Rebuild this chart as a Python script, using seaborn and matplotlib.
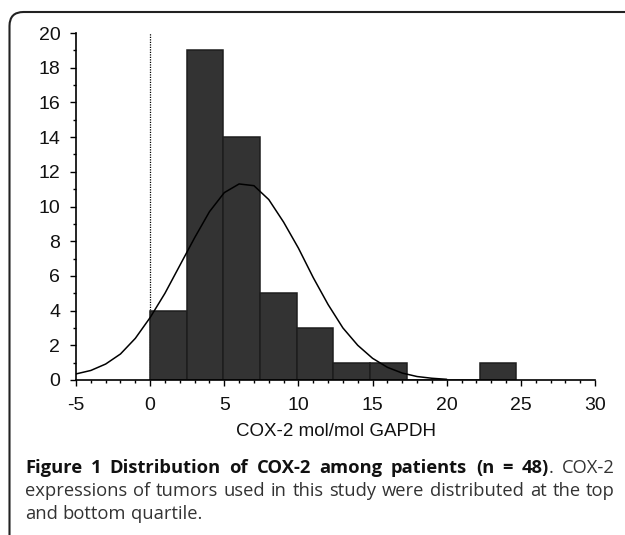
"""
plot.py
COX-2 expression histogram with fitted normal curve, plus figure caption.
Writes out.png (625x535).
"""

import matplotlib
matplotlib.use("Agg")
import matplotlib.pyplot as plt
from matplotlib.patches import FancyBboxPatch
from matplotlib.transforms import IdentityTransform
from matplotlib.ticker import MultipleLocator
import seaborn as sns


# ---------------------------------------------------------------------------
# DATA
# ---------------------------------------------------------------------------
bin_width = 2.47
bin_starts = [0, 2.47, 4.94, 7.41, 9.88, 12.35, 14.82, 17.29, 19.76, 22.23]
bin_counts = [4, 19, 14, 5, 3, 1, 1, 0, 0, 1]

# fitted normal curve
curve_x = [-5, -4, -3, -2, -1, 0, 1, 2, 3, 4, 5, 6, 7, 8, 9, 10,
           11, 12, 13, 14, 15, 16, 17, 18, 19, 20]
curve_y = [0.35, 0.55, 0.92, 1.5, 2.4, 3.6, 5.0, 6.6, 8.2, 9.7, 10.8, 11.3,
           11.2, 10.4, 9.1, 7.6, 5.9, 4.35, 3.0, 2.0, 1.25, 0.73, 0.4, 0.2,
           0.1, 0.04]

x_label = "COX-2 mol/mol GAPDH"
caption_bold = "Figure 1 Distribution of COX-2 among patients (n = 48)"
caption_line1_rest = ". COX-2"
caption_line2 = "expressions of tumors used in this study were distributed at the top"
caption_line3 = "and bottom quartile."


# ---------------------------------------------------------------------------
# FIGURE
# ---------------------------------------------------------------------------
W, H = 625, 535
sns.set_style("ticks")
plt.rcParams["font.family"] = ["Liberation Sans", "DejaVu Sans"]
plt.rcParams["axes.unicode_minus"] = False   # plain hyphen like the original

fig = plt.figure(figsize=(W / 100, H / 100), dpi=100)
ax = fig.add_axes([76 / W, 1 - 380 / H, 519 / W, 347 / H])

edges = bin_starts + [bin_starts[-1] + bin_width]
centers = [s + bin_width / 2 for s in bin_starts]
sns.histplot(x=centers, weights=bin_counts, bins=edges, ax=ax,
             color="#333333", edgecolor="#1e1e1e", linewidth=1.1, alpha=1)

sns.lineplot(x=curve_x, y=curve_y, ax=ax, color="black", linewidth=1.1)

# dotted reference line at zero
ax.axvline(0, color="black", linestyle=(0, (1, 1)), linewidth=0.9, zorder=0)

ax.set_xlim(-5, 30)
ax.set_ylim(0, 20)
ax.xaxis.set_major_locator(MultipleLocator(5))
ax.xaxis.set_minor_locator(MultipleLocator(1))
ax.yaxis.set_major_locator(MultipleLocator(2))
ax.yaxis.set_minor_locator(MultipleLocator(1))
ax.tick_params(which="major", length=4.3, width=1, color="black",
               labelsize=14, labelcolor="#111111")
ax.tick_params(axis="x", which="major", pad=8)
ax.tick_params(axis="y", which="major", pad=7)
ax.tick_params(which="minor", length=2.2, width=1, color="black")

for side in ["top", "right"]:
    ax.spines[side].set_visible(False)
for side in ["left", "bottom"]:
    ax.spines[side].set_color("black")
    ax.spines[side].set_linewidth(1.2)

ax.set_ylabel("")
ax.set_xlabel(x_label, fontsize=13.5, color="#111111")
ax.xaxis.label.set_va("center")
ax.xaxis.set_label_coords(0.5, (380 - 432) / 347)
ax.patch.set_alpha(0)

# rounded frame around figure + caption (right/bottom run off the image)
frame = FancyBboxPatch((9.5, -40), W + 60, H - 12 + 40,
                       boxstyle="round,pad=0,rounding_size=14",
                       transform=IdentityTransform(), fill=False,
                       edgecolor="#222222", linewidth=1.5)
fig.patches.append(frame)


# ---------------------------------------------------------------------------
# CAPTION (justified lines)
# ---------------------------------------------------------------------------
cap_font = ["Open Sans", "DejaVu Sans"]
cap_size = 13.2
left_px, right_px = 25, 615
renderer = fig.canvas.get_renderer()


def text_width(t):
    bb = t.get_window_extent(renderer=renderer)
    return bb.width


def draw_line(words, base_px, justify):
    # words: list of lists of (text, weight, colour)
    placed = []
    total = 0
    for word in words:
        parts = []
        w_word = 0
        for txt, weight, col in word:
            t = fig.text(0, 1 - base_px / H, txt, family=cap_font,
                         fontsize=cap_size, weight=weight, color=col,
                         va="baseline", ha="left")
            w = text_width(t)
            parts.append((t, w))
            w_word += w
        placed.append(parts)
        total += w_word
    probe = fig.text(0, 0, "n n", family=cap_font, fontsize=cap_size)
    probe2 = fig.text(0, 0, "nn", family=cap_font, fontsize=cap_size)
    space = text_width(probe) - text_width(probe2)
    probe.remove()
    probe2.remove()
    if justify and len(words) > 1:
        gap = max((right_px - left_px - total) / (len(words) - 1), space * 0.6)
    else:
        gap = space
    x = left_px
    for parts in placed:
        for t, w in parts:
            t.set_x(x / W)
            x += w
        x += gap


bold_col = "#111111"
reg_col = "#333333"
line1 = [[(w, "bold", bold_col)] for w in caption_bold.split(" ")]
line1[-1].append((caption_line1_rest.split(" ")[0], "normal", reg_col))
line1 += [[(w, "normal", reg_col)] for w in caption_line1_rest.split(" ")[1:]]
line2 = [[(w, "normal", reg_col)] for w in caption_line2.split(" ")]
line3 = [[(w, "normal", reg_col)] for w in caption_line3.split(" ")]

draw_line(line1, 473, True)
draw_line(line2, 496, True)
draw_line(line3, 519, False)

fig.savefig("out.png", dpi=100)
